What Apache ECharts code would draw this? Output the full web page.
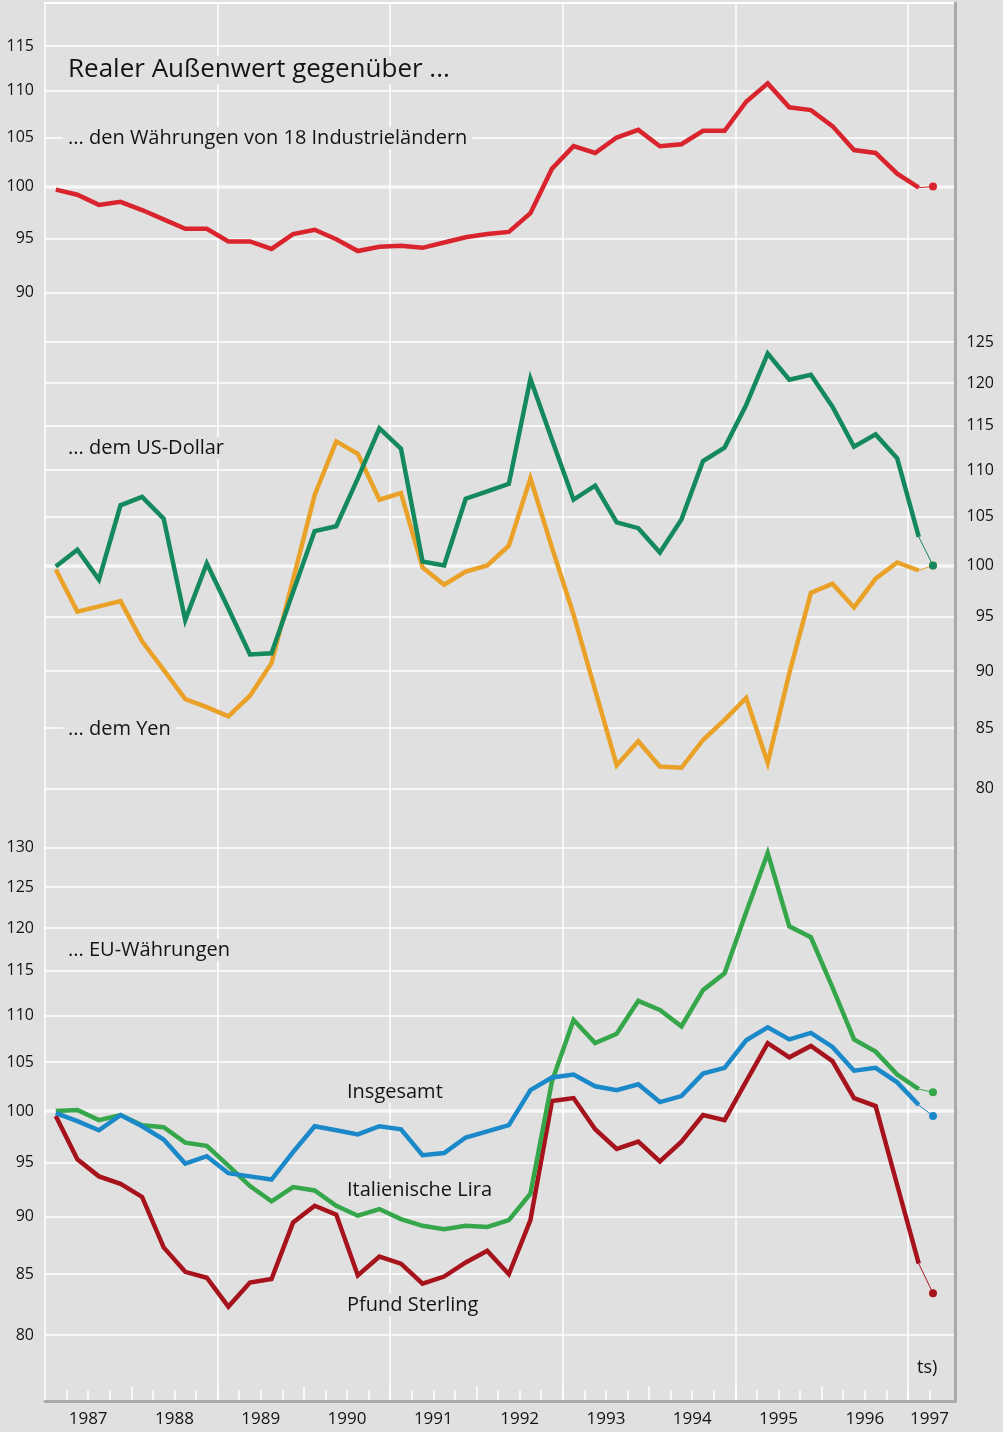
<!DOCTYPE html>
<html>
<head>
<meta charset="utf-8">
<script src="https://cdn.jsdelivr.net/npm/echarts@6/dist/echarts.min.js"></script>
<style>
html,body{margin:0;padding:0;background:#e0e0e0;}
#chart{width:1003px;height:1432px;}
</style>
</head>
<body>
<div id="chart"></div>
<script>
// ---------- data ----------
const quarters = [
  '1987 Q1','1987 Q2','1987 Q3','1987 Q4','1988 Q1','1988 Q2','1988 Q3','1988 Q4',
  '1989 Q1','1989 Q2','1989 Q3','1989 Q4','1990 Q1','1990 Q2','1990 Q3','1990 Q4',
  '1991 Q1','1991 Q2','1991 Q3','1991 Q4','1992 Q1','1992 Q2','1992 Q3','1992 Q4',
  '1993 Q1','1993 Q2','1993 Q3','1993 Q4','1994 Q1','1994 Q2','1994 Q3','1994 Q4',
  '1995 Q1','1995 Q2','1995 Q3','1995 Q4','1996 Q1','1996 Q2','1996 Q3','1996 Q4',
  '1997 Q1'
];
const industrie = [99.7,99.2,98.2,98.5,97.7,96.8,95.9,95.9,94.7,94.7,94.0,95.4,95.8,94.9,93.8,94.2,94.3,94.1,94.6,95.1,
  95.4,95.6,97.4,101.8,104.1,103.4,105.0,105.8,104.1,104.3,105.7,105.7,108.8,110.8,108.2,107.9,106.2,103.7,103.4,101.3,99.9];
const usDollar = [99.9,101.6,98.6,106.2,107.1,104.8,94.7,100.2,95.8,91.5,91.6,97.4,103.5,104.0,109.1,114.7,112.4,100.4,100.0,106.9,
  107.7,108.5,120.5,113.4,106.8,108.3,104.4,103.8,101.3,104.7,111.0,112.5,117.4,123.6,120.4,121.0,117.2,112.6,114.0,111.3,102.9];
const yen = [99.6,95.5,96.0,96.5,92.7,90.1,87.5,86.8,86.0,87.8,90.7,98.6,107.3,113.2,111.8,106.8,107.5,99.8,98.1,99.4,
  100.0,102.0,109.1,101.8,95.2,88.3,81.9,83.9,81.8,81.7,84.0,85.7,87.6,82.1,89.8,97.3,98.2,95.9,98.7,100.3,99.5];
const euInsgesamt = [99.8,99.0,98.1,99.6,98.5,97.2,94.9,95.6,94.0,93.7,93.4,96.0,98.5,98.1,97.7,98.5,98.2,95.7,95.9,97.4,
  98.0,98.6,102.1,103.4,103.7,102.5,102.1,102.7,100.9,101.5,103.8,104.4,107.3,108.7,107.4,108.1,106.6,104.1,104.4,102.9,100.6];
const lira = [100.0,100.1,99.1,99.6,98.6,98.4,96.9,96.6,94.7,92.8,91.4,92.7,92.4,91.0,90.1,90.7,89.8,89.2,88.9,89.2,
  89.1,89.7,92.1,103.0,109.5,107.0,108.0,111.6,110.6,108.8,112.8,114.7,121.9,129.3,120.2,118.9,113.1,107.4,106.1,103.7,102.2];
const pfund = [99.5,95.3,93.7,93.0,91.8,87.3,85.2,84.7,82.3,84.3,84.6,89.5,91.0,90.2,84.9,86.5,85.9,84.2,84.8,86.0,
  87.0,85.0,89.7,101.0,101.3,98.2,96.3,97.0,95.1,97.0,99.6,99.1,103.0,107.0,105.5,106.7,105.1,101.3,100.5,92.9,85.9];
// latest (monthly) value shown as a dot
const latestTime = 1997.29;
const latestIndustrie = 100.0, latestUsDollar = 100.0, latestYen = 100.0;
const latestEu = 99.5, latestLira = 101.9, latestPfund = 83.4;
// tick labels
const ticksTop = [90,95,100,105,110,115];
const ticksMid = [80,85,90,95,100,105,110,115,120,125];
const ticksBot = [80,85,90,95,100,105,110,115,120,125,130];
const years = [1987,1988,1989,1990,1991,1992,1993,1994,1995,1996,1997];

// ---------- helpers ----------
const FONT = '"Open Sans", "Noto Sans", sans-serif';
const TXT = '#141414';
const X0 = 1987, X1 = 1997.545;
function qTime(s){ return +s.slice(0,4) + (+s.slice(6) - 0.5) / 4; }
const times = quarters.map(qTime);
function pairs(vals){ return vals.map((v,i)=>[times[i], v]); }
const lastT = times[times.length-1];

const yearBounds = years.slice(1);
const yearLabelPos = years.map(y => y === 1997 ? 1997.25 : y + 0.5);
const quarterTicks = [];
years.forEach(y => { [0.25,0.5,0.75].forEach(f => { if (y + f < X1 - 0.1) quarterTicks.push(y + f); }); });

const C = {red:'#d9232d', usd:'#14895d', yen:'#e9a127', lira:'#35a64a', eu:'#1b88c9', pfund:'#a6131c'};

function logAxis(gi, min, max, ticks, pos, margin, align){
  return {
    type:'log', logBase:10, gridIndex:gi, min:min, max:max, position:pos,
    axisLine:{show:false},
    axisTick:{show:false, customValues: ticks},
    axisLabel:{show:true, customValues: ticks, margin:margin, align:align,
      fontSize:16, color:TXT, fontFamily:FONT, formatter: v => String(Math.round(v))},
    splitLine:{show:true, lineStyle:{color:'#ffffff', width:1.5}}
  };
}
function line100Axis(gi, min, max){
  return {
    type:'log', logBase:10, gridIndex:gi, min:min, max:max,
    axisLine:{show:false}, axisTick:{show:false, customValues:[100]},
    axisLabel:{show:false},
    splitLine:{show:true, lineStyle:{color:'#f6f6f6', width:3.5}}
  };
}
function mainSeries(name, vals, color, xi, yi){
  return {name, type:'line', xAxisIndex:xi, yAxisIndex:yi, data:pairs(vals),
    symbol:'none', lineStyle:{color, width:4.5, join:'miter', miterLimit:8}, itemStyle:{color}, z:2, silent:true};
}
function tailSeries(vals, latest, color, xi, yi){
  return {type:'line', xAxisIndex:xi, yAxisIndex:yi,
    data:[{value:[lastT, vals[vals.length-1]], symbol:'none'}, [latestTime, latest]],
    symbol:'circle', symbolSize:8, lineStyle:{color, width:1}, itemStyle:{color}, z:2, silent:true};
}
function label(text, x, y, size){
  return {type:'text', x:x-5, y:y, z:10, silent:true,
    style:{text, fontSize:size, fontFamily:FONT, fill:TXT, align:'left', verticalAlign:'middle',
      backgroundColor:'#e0e0e0', padding:[1,5]}};
}

const option = {
  animation:false,
  backgroundColor:'#e0e0e0',
  grid:[
    {left:45, width:910, top:3, height:1398.5},
    {left:45, width:910, top:3.1, height:312.2},
    {left:45, width:910, top:326.3, height:475.1},
    {left:45, width:910, top:832.3, height:528.2}
  ],
  xAxis:[
    // 0: vertical grid lines every two years
    {type:'value', gridIndex:0, min:X0, max:X1, interval:2, position:'bottom',
      axisLine:{show:false}, axisTick:{show:false}, axisLabel:{show:false},
      splitLine:{show:true, showMaxLine:false, lineStyle:{color:'#ffffff', width:1.5}}},
    // 1: year ticks + year labels
    {type:'value', gridIndex:0, min:X0, max:X1, position:'bottom', z:3,
      axisLine:{show:false},
      axisTick:{show:true, inside:true, length:15, customValues:yearBounds, lineStyle:{color:'#ffffff', width:1.5}},
      axisLabel:{show:true, customValues:yearLabelPos, margin:9, fontSize:17, color:TXT, fontFamily:FONT,
        formatter: v => String(Math.floor(v))},
      splitLine:{show:false}},
    // 2: quarter ticks
    {type:'value', gridIndex:0, min:X0, max:X1, position:'bottom', z:3,
      axisLine:{show:false},
      axisTick:{show:true, inside:true, length:11, customValues:quarterTicks, lineStyle:{color:'#ffffff', width:1.5}},
      axisLabel:{show:false}, splitLine:{show:false}},
    // 3: grey bottom border
    {type:'value', gridIndex:0, min:X0, max:X1, position:'bottom', z:4,
      axisLine:{show:true, lineStyle:{color:'#a9a9a9', width:3}},
      axisTick:{show:false}, axisLabel:{show:false}, splitLine:{show:false}},
    // 4: white top border
    {type:'value', gridIndex:0, min:X0, max:X1, position:'top',
      axisLine:{show:true, lineStyle:{color:'#ffffff', width:2}},
      axisTick:{show:false}, axisLabel:{show:false}, splitLine:{show:false}},
    {type:'value', gridIndex:1, min:X0, max:X1, show:false},
    {type:'value', gridIndex:2, min:X0, max:X1, show:false},
    {type:'value', gridIndex:3, min:X0, max:X1, show:false}
  ],
  yAxis:[
    {type:'value', gridIndex:0, min:0, max:1, position:'right', z:4,
      axisLine:{show:true, lineStyle:{color:'#a9a9a9', width:3}},
      axisTick:{show:false}, axisLabel:{show:false}, splitLine:{show:false}},
    logAxis(1, 88, 120, ticksTop, 'left', 11, 'right'),
    line100Axis(1, 88, 120),
    logAxis(2, 79, 127, ticksMid, 'right', 39, 'right'),
    line100Axis(2, 79, 127),
    logAxis(3, 78, 132, ticksBot, 'left', 11, 'right'),
    line100Axis(3, 78, 132)
  ],
  series:[
    mainSeries('Industrieländer', industrie, C.red, 5, 1),
    tailSeries(industrie, latestIndustrie, C.red, 5, 1),
    mainSeries('Yen', yen, C.yen, 6, 3),
    tailSeries(yen, latestYen, C.yen, 6, 3),
    mainSeries('US-Dollar', usDollar, C.usd, 6, 3),
    tailSeries(usDollar, latestUsDollar, C.usd, 6, 3),
    mainSeries('Pfund Sterling', pfund, C.pfund, 7, 5),
    tailSeries(pfund, latestPfund, C.pfund, 7, 5),
    mainSeries('Italienische Lira', lira, C.lira, 7, 5),
    tailSeries(lira, latestLira, C.lira, 7, 5),
    mainSeries('Insgesamt', euInsgesamt, C.eu, 7, 5),
    tailSeries(euInsgesamt, latestEu, C.eu, 7, 5)
  ],
  graphic:[
    label('Realer Außenwert gegenüber ...', 68, 70, 26),
    label('... den Währungen von 18 Industrieländern', 68, 138, 20),
    label('... dem US-Dollar', 68, 448, 20),
    label('... dem Yen', 68, 729, 20),
    label('... EU-Währungen', 68, 950, 20),
    label('Insgesamt', 347, 1092, 20),
    label('Italienische Lira', 347, 1190, 20),
    label('Pfund Sterling', 347, 1305, 20),
    label('ts)', 917, 1368, 18)
  ]
};
const chart = echarts.init(document.getElementById('chart'), null, {renderer:'canvas'});
chart.setOption(option);
</script>
</body>
</html>
